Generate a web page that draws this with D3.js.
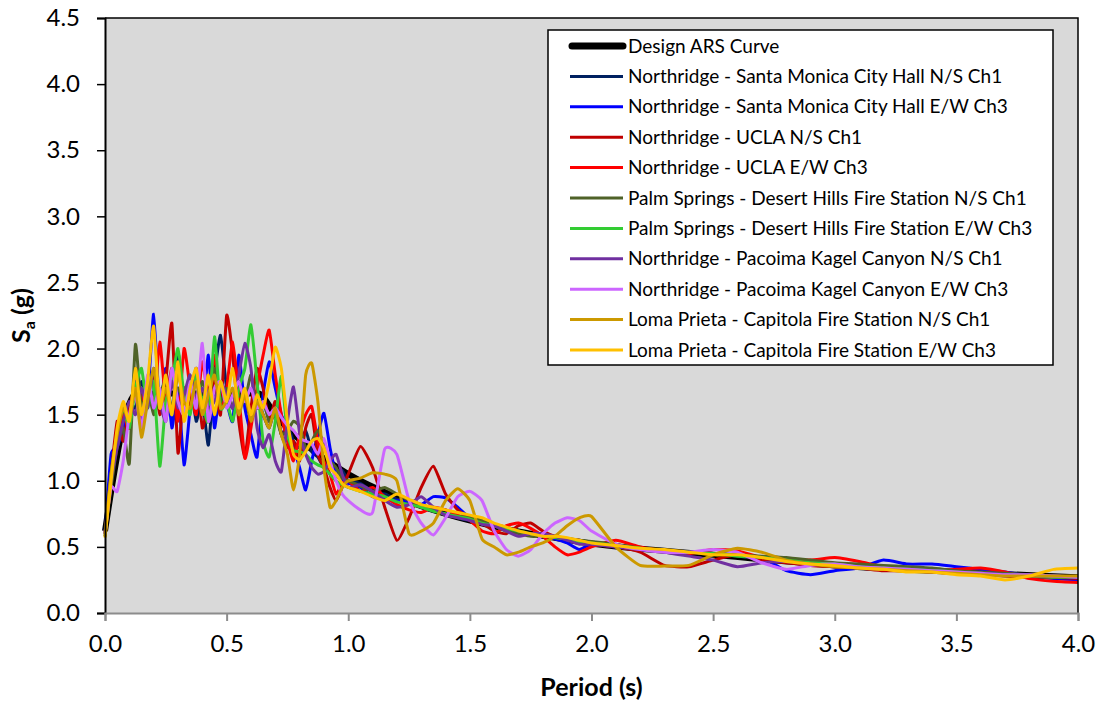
<!DOCTYPE html>
<html>
<head>
<meta charset="utf-8">
<script src="https://cdn.jsdelivr.net/npm/d3@7"></script>
<style>
  body { margin: 0; background: #fff; }
  text { font-family: Lato, "Open Sans", sans-serif; fill: #000; }
</style>
</head>
<body>
<svg id="chart" width="1102" height="705"></svg>
<script>
// period grid shared by all recorded spectra (s)
var periods = [0, 0.025, 0.05, 0.075, 0.1, 0.125, 0.15, 0.175, 0.2, 0.225, 0.25, 0.275, 0.3, 0.325, 0.35, 0.375, 0.4, 0.425, 0.45, 0.475, 0.5,
  0.525, 0.55, 0.575, 0.6, 0.625, 0.65, 0.675, 0.7, 0.725, 0.75, 0.775, 0.8, 0.825, 0.85, 0.875, 0.9, 0.925, 0.95, 0.975, 1.0,
  1.05, 1.1, 1.15, 1.2, 1.25, 1.3, 1.35, 1.4, 1.45, 1.5, 1.55, 1.6, 1.65, 1.7, 1.75, 1.8, 1.85, 1.9, 1.95, 2.0,
  2.1, 2.2, 2.3, 2.4, 2.5, 2.6, 2.7, 2.8, 2.9, 3.0, 3.1, 3.2, 3.3, 3.4, 3.5, 3.6, 3.7, 3.8, 3.9, 4.0];

// design ARS curve
var designPeriods = [0, 0.13, 0.63, 0.7, 0.8, 0.9, 1.0, 1.2, 1.4, 1.6, 1.8, 2.0, 2.5, 3.0, 3.5, 4.0];
var designSa = [0.62, 1.66, 1.66, 1.50, 1.31, 1.17, 1.05, 0.875, 0.75, 0.656, 0.583, 0.525, 0.44, 0.36, 0.31, 0.27];

var smNS = [0.62, 1.10, 1.30, 1.45, 1.60, 1.55, 1.75, 1.62, 1.80, 1.55, 1.70, 1.48, 1.97, 1.60, 1.75, 1.45, 1.62, 1.27, 1.80, 2.10,
  1.70, 1.55, 1.75, 1.60, 1.48, 1.62, 1.50, 1.40, 1.55, 1.35, 1.42, 1.30, 1.25, 1.38, 1.22, 1.18, 1.10, 1.16, 1.05, 1.08, 1.00,
  0.98, 0.92, 0.90, 0.86, 0.84, 0.80, 0.77, 0.78, 0.72, 0.70, 0.69, 0.66, 0.64, 0.62, 0.60, 0.59, 0.57, 0.56, 0.54, 0.53,
  0.51, 0.49, 0.47, 0.46, 0.45, 0.43, 0.41, 0.39, 0.38, 0.36, 0.35, 0.34, 0.33, 0.32, 0.31, 0.30, 0.29, 0.28, 0.28, 0.27];
var smEW = [0.60, 1.20, 1.25, 1.40, 1.50, 1.75, 1.45, 1.60, 2.26, 1.55, 1.85, 1.40, 1.70, 1.12, 1.55, 1.85, 1.50, 1.95, 1.40, 1.75,
  1.60, 1.45, 1.95, 1.55, 1.35, 1.18, 1.65, 1.90, 1.70, 1.50, 1.40, 1.25, 1.10, 0.93, 1.15, 1.35, 1.51, 1.25, 1.05, 1.00, 0.98,
  0.95, 0.88, 0.86, 0.85, 0.84, 0.82, 0.88, 0.87, 0.80, 0.72, 0.70, 0.66, 0.64, 0.61, 0.60, 0.59, 0.56, 0.53, 0.48, 0.52,
  0.50, 0.48, 0.47, 0.46, 0.45, 0.44, 0.42, 0.32, 0.29, 0.32, 0.34, 0.40, 0.37, 0.37, 0.35, 0.33, 0.31, 0.28, 0.26, 0.25];
var uclaNS = [0.60, 1.05, 1.45, 1.30, 1.55, 1.70, 1.40, 1.65, 1.80, 1.50, 1.75, 2.19, 1.21, 1.70, 1.55, 1.85, 1.40, 1.60, 1.75, 1.50,
  2.25, 1.95, 1.45, 1.18, 1.55, 1.85, 1.70, 1.45, 1.60, 1.35, 1.25, 1.30, 1.15, 1.40, 1.50, 1.20, 1.10, 0.95, 0.85, 0.95, 1.05,
  1.26, 1.10, 0.80, 0.55, 0.72, 0.95, 1.11, 0.90, 0.78, 0.72, 0.68, 0.62, 0.60, 0.66, 0.68, 0.62, 0.58, 0.56, 0.55, 0.52,
  0.50, 0.46, 0.36, 0.35, 0.40, 0.44, 0.40, 0.38, 0.36, 0.35, 0.34, 0.32, 0.32, 0.31, 0.30, 0.29, 0.28, 0.27, 0.27, 0.26];
var uclaEW = [0.58, 1.00, 1.30, 1.50, 1.40, 1.85, 1.60, 1.75, 1.55, 2.05, 1.60, 1.85, 1.45, 2.00, 1.70, 1.50, 1.90, 1.65, 1.95, 1.55,
  1.70, 2.05, 1.65, 1.17, 1.40, 1.70, 1.95, 2.14, 1.80, 1.50, 1.30, 1.15, 1.35, 1.50, 1.56, 1.30, 1.15, 1.05, 0.90, 0.98, 1.00,
  0.92, 0.95, 0.88, 0.82, 0.78, 0.76, 0.80, 0.78, 0.74, 0.70, 0.62, 0.60, 0.66, 0.68, 0.64, 0.58, 0.50, 0.44, 0.46, 0.50,
  0.55, 0.50, 0.47, 0.45, 0.48, 0.47, 0.42, 0.41, 0.40, 0.42, 0.39, 0.35, 0.33, 0.32, 0.33, 0.34, 0.31, 0.26, 0.24, 0.23];
var psNS = [0.60, 0.95, 1.25, 1.40, 1.13, 2.03, 1.55, 1.70, 1.50, 1.65, 1.75, 1.55, 1.70, 1.60, 1.80, 1.55, 1.75, 1.65, 1.85, 1.60,
  1.70, 1.55, 1.65, 1.60, 1.80, 1.55, 1.60, 1.45, 1.50, 1.35, 1.38, 1.45, 1.41, 1.25, 1.30, 1.38, 1.28, 1.15, 1.10, 1.02, 1.00,
  0.96, 0.92, 0.95, 0.90, 0.85, 0.80, 0.78, 0.74, 0.73, 0.72, 0.70, 0.66, 0.62, 0.60, 0.58, 0.58, 0.57, 0.56, 0.55, 0.54,
  0.52, 0.49, 0.47, 0.46, 0.45, 0.44, 0.43, 0.42, 0.40, 0.38, 0.37, 0.36, 0.35, 0.34, 0.32, 0.31, 0.30, 0.29, 0.28, 0.27];
var psEW = [0.58, 1.05, 1.35, 1.55, 1.40, 1.70, 1.85, 1.55, 1.75, 1.11, 1.60, 1.75, 2.00, 1.65, 1.50, 1.80, 1.60, 1.45, 2.09, 1.55,
  1.60, 1.45, 1.70, 1.85, 2.18, 1.75, 1.30, 1.18, 1.45, 1.79, 1.35, 1.23, 1.22, 1.20, 1.15, 1.12, 1.10, 1.05, 1.00, 0.97, 0.95,
  0.92, 0.90, 0.88, 0.84, 0.82, 0.80, 0.77, 0.75, 0.73, 0.71, 0.68, 0.66, 0.64, 0.62, 0.60, 0.59, 0.57, 0.56, 0.54, 0.53,
  0.51, 0.49, 0.47, 0.46, 0.45, 0.43, 0.42, 0.40, 0.38, 0.37, 0.35, 0.34, 0.33, 0.32, 0.31, 0.30, 0.29, 0.28, 0.27, 0.27];
var pkNS = [0.60, 1.00, 1.25, 1.45, 1.60, 1.50, 1.70, 1.55, 1.85, 1.60, 1.45, 1.75, 1.55, 1.65, 1.80, 1.60, 1.70, 1.55, 1.60, 1.75,
  1.65, 1.55, 1.80, 2.04, 1.85, 1.40, 1.25, 1.35, 1.15, 1.07, 1.45, 1.71, 1.36, 1.20, 1.10, 1.05, 1.07, 1.15, 1.20, 1.05, 0.95,
  0.97, 0.92, 0.85, 0.80, 0.82, 0.88, 0.80, 0.74, 0.72, 0.70, 0.67, 0.66, 0.62, 0.58, 0.60, 0.60, 0.58, 0.55, 0.52, 0.52,
  0.50, 0.48, 0.46, 0.43, 0.40, 0.35, 0.38, 0.39, 0.37, 0.36, 0.34, 0.33, 0.32, 0.31, 0.30, 0.30, 0.29, 0.28, 0.28, 0.27];
var pkEW = [0.60, 0.95, 0.92, 1.15, 1.50, 1.65, 1.40, 1.80, 1.55, 1.70, 1.45, 1.85, 1.60, 1.50, 1.75, 1.55, 2.04, 1.45, 1.70, 1.75,
  1.55, 1.65, 1.75, 1.60, 1.70, 1.55, 1.60, 1.50, 1.55, 1.48, 1.42, 1.38, 1.32, 1.30, 1.28, 1.20, 1.32, 1.15, 1.00, 0.90, 0.85,
  0.78, 0.76, 1.24, 1.20, 0.85, 0.68, 0.59, 0.72, 0.88, 0.92, 0.85, 0.62, 0.48, 0.43, 0.48, 0.60, 0.68, 0.72, 0.70, 0.62,
  0.52, 0.48, 0.46, 0.46, 0.48, 0.46, 0.38, 0.33, 0.36, 0.37, 0.35, 0.34, 0.33, 0.32, 0.31, 0.30, 0.29, 0.29, 0.28, 0.27];
var lpNS = [0.60, 1.05, 1.35, 1.55, 1.45, 1.70, 1.33, 1.60, 1.85, 1.55, 1.70, 1.50, 1.80, 1.60, 1.55, 1.75, 1.50, 1.65, 1.80, 1.55,
  1.60, 1.70, 1.50, 1.65, 1.45, 1.60, 1.50, 1.40, 1.55, 1.35, 1.20, 0.93, 1.20, 1.80, 1.89, 1.60, 1.10, 0.80, 0.85, 0.95, 1.00,
  1.02, 1.06, 1.05, 1.00, 0.60, 0.62, 0.68, 0.85, 0.94, 0.85, 0.56, 0.50, 0.44, 0.46, 0.50, 0.53, 0.58, 0.66, 0.72, 0.73,
  0.50, 0.36, 0.355, 0.36, 0.44, 0.49, 0.46, 0.40, 0.37, 0.35, 0.34, 0.33, 0.32, 0.31, 0.30, 0.29, 0.28, 0.28, 0.28, 0.28];
var lpEW = [0.57, 1.00, 1.40, 1.60, 1.45, 1.85, 1.50, 1.75, 2.17, 1.55, 1.80, 1.50, 1.90, 1.45, 1.70, 1.85, 1.55, 1.80, 1.50, 1.75,
  1.60, 1.85, 1.55, 1.70, 1.50, 1.65, 1.55, 1.75, 2.01, 1.85, 1.45, 1.20, 1.16, 1.22, 1.30, 1.32, 1.25, 1.10, 1.05, 0.98, 0.95,
  0.92, 0.88, 0.85, 0.90, 0.86, 0.82, 0.80, 0.78, 0.76, 0.74, 0.72, 0.68, 0.65, 0.62, 0.60, 0.58, 0.58, 0.57, 0.55, 0.53,
  0.51, 0.49, 0.48, 0.46, 0.44, 0.44, 0.42, 0.39, 0.37, 0.36, 0.34, 0.33, 0.31, 0.31, 0.29, 0.28, 0.25, 0.28, 0.33, 0.34];

var seriesNames = [
  "Northridge - Santa Monica City Hall N/S Ch1",
  "Northridge - Santa Monica City Hall E/W Ch3",
  "Northridge - UCLA N/S Ch1",
  "Northridge - UCLA E/W Ch3",
  "Palm Springs - Desert Hills Fire Station N/S Ch1",
  "Palm Springs - Desert Hills Fire Station E/W Ch3",
  "Northridge - Pacoima Kagel Canyon N/S Ch1",
  "Northridge - Pacoima Kagel Canyon E/W Ch3",
  "Loma Prieta - Capitola Fire Station N/S Ch1",
  "Loma Prieta - Capitola Fire Station E/W Ch3"
];
var seriesValues = [smNS, smEW, uclaNS, uclaEW, psNS, psEW, pkNS, pkEW, lpNS, lpEW];
var seriesColors = ["#002060", "#0000ff", "#c00000", "#ff0000", "#4f6228", "#33cc33", "#7030a0", "#cc66ff", "#cc9900", "#ffc000"];

var yTicks = [0, 0.5, 1, 1.5, 2, 2.5, 3, 3.5, 4, 4.5];
var xTicks = [0, 0.5, 1, 1.5, 2, 2.5, 3, 3.5, 4];

var svg = d3.select("#chart");
var plotL = 105, plotR = 1078, plotT = 18, plotB = 613;

var x = d3.scaleLinear().domain([0, 4]).range([plotL, plotR]);
var y = d3.scaleLinear().domain([0, 4.5]).range([plotB, plotT]);

// plot area
svg.append("rect")
  .attr("x", plotL).attr("y", plotT)
  .attr("width", plotR - plotL).attr("height", plotB - plotT)
  .attr("fill", "#d9d9d9");

var designLine = d3.line()
  .x(function(d) { return x(d[0]); })
  .y(function(d) { return y(d[1]); })
  .curve(d3.curveMonotoneX);

var line = d3.line()
  .x(function(d) { return x(d[0]); })
  .y(function(d) { return y(d[1]); })
  .curve(d3.curveCardinal.tension(0.5));

svg.append("path")
  .datum(d3.zip(designPeriods, designSa))
  .attr("d", designLine)
  .attr("fill", "none")
  .attr("stroke", "#000")
  .attr("stroke-width", 6)
  .attr("stroke-linejoin", "round");

seriesValues.forEach(function(vals, i) {
  svg.append("path")
    .datum(d3.zip(periods, vals))
    .attr("d", line)
    .attr("fill", "none")
    .attr("stroke", seriesColors[i])
    .attr("stroke-width", 3)
    .attr("stroke-linejoin", "round");
});

// frame: black top/right, axes drawn on top
svg.append("path")
  .attr("d", "M" + plotL + "," + plotT + "H" + plotR + "V" + plotB)
  .attr("fill", "none").attr("stroke", "#000").attr("stroke-width", 1.5);

var yAxis = svg.append("g")
  .attr("transform", "translate(" + plotL + ",0)")
  .call(d3.axisLeft(y).tickValues(yTicks).tickSize(8).tickPadding(17).tickFormat(d3.format(".1f")));
yAxis.select(".domain").attr("stroke", "#000").attr("stroke-width", 2);
yAxis.selectAll(".tick line").attr("stroke", "#000").attr("stroke-width", 1.5);
yAxis.selectAll("text").attr("font-size", 24).attr("font-family", "Lato, sans-serif").attr("fill", "#000");

var xAxis = svg.append("g")
  .attr("transform", "translate(0," + plotB + ")")
  .call(d3.axisBottom(x).tickValues(xTicks).tickSize(8).tickPadding(14).tickFormat(d3.format(".1f")));
xAxis.select(".domain").attr("stroke", "#8c8c8c").attr("stroke-width", 2);
xAxis.selectAll(".tick line").attr("stroke", "#8c8c8c").attr("stroke-width", 2);
xAxis.selectAll("text").attr("font-size", 24).attr("font-family", "Lato, sans-serif").attr("fill", "#000");

// axis titles
svg.append("text")
  .attr("x", (plotL + plotR) / 2).attr("y", 696)
  .attr("text-anchor", "middle")
  .attr("font-size", 25).attr("font-weight", "bold")
  .text("Period (s)");

var yTitle = svg.append("text")
  .attr("transform", "translate(30," + ((plotT + plotB) / 2) + ") rotate(-90)")
  .attr("text-anchor", "middle")
  .attr("font-size", 25).attr("font-weight", "bold");
yTitle.append("tspan").text("S");
yTitle.append("tspan").attr("font-size", 16).attr("dy", 5).text("a");
yTitle.append("tspan").attr("dy", -5).text(" (g)");

// legend
var lg = svg.append("g").attr("transform", "translate(548,30)");
lg.append("rect")
  .attr("width", 505).attr("height", 335)
  .attr("fill", "#fff").attr("stroke", "#000").attr("stroke-width", 1.5);

var legendNames = ["Design ARS Curve"].concat(seriesNames);
var legendColors = ["#000"].concat(seriesColors);
var row = d3.scaleLinear().domain([0, 10]).range([16, 320]);

legendNames.forEach(function(name, i) {
  lg.append("line")
    .attr("x1", i === 0 ? 24 : 22).attr("x2", 75)
    .attr("y1", row(i)).attr("y2", row(i))
    .attr("stroke", legendColors[i])
    .attr("stroke-width", i === 0 ? 7 : 3)
    .attr("stroke-linecap", i === 0 ? "round" : "butt");
  lg.append("text")
    .attr("x", 80).attr("y", row(i))
    .attr("dy", "0.35em")
    .attr("font-size", 19)
    .text(name);
});
</script>
</body>
</html>
